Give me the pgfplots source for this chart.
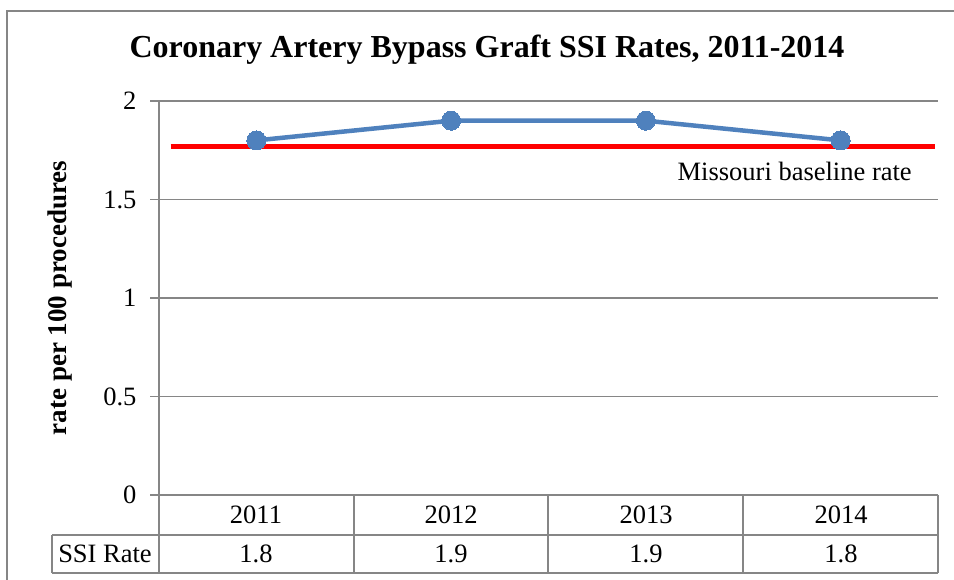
\documentclass[border=0pt]{standalone}
\usepackage{pgfplots}
\pgfplotsset{compat=1.18}
\usepackage{fontspec}
\setmainfont{Liberation Serif}
\definecolor{gridc}{HTML}{868686}
\definecolor{blueline}{HTML}{4F81BD}
\begin{document}
\begin{tikzpicture}
\useasboundingbox (0bp,0bp) rectangle (954bp,580bp);
\fill[white] (0bp,0bp) rectangle (954bp,580bp);
\draw[gridc, line width=1.5bp] (7bp,0bp) -- (7bp,569bp) -- (954bp,569bp);
\node[font=\bfseries\fontsize{32bp}{36bp}\selectfont] at (487bp,530bp) {Coronary Artery Bypass Graft SSI Rates, 2011-2014};
\node[font=\bfseries\fontsize{27bp}{30bp}\selectfont, rotate=90] at (60bp,282bp) {rate per 100 procedures};
\begin{axis}[
  at={(159bp,85bp)}, anchor=south west, scale only axis,
  width=779bp, height=394bp,
  xmin=-0.5, xmax=3.5, ymin=0, ymax=2,
  xtick=\empty,
  ytick={0,0.5,1,1.5,2},
  yticklabels={0,0.5,1,1.5,2},
  /pgf/number format/assume math mode=true,
  ymajorgrids, grid style={gridc, line width=1.3bp},
  axis x line=none,
  axis y line*=left,
  axis line style={gridc, line width=1.5bp, -},
  y axis line style={-},
  tick align=outside, major tick length=9bp,
  tick style={gridc, line width=1.3bp},
  yticklabel style={font=\fontsize{26.5bp}{30bp}\selectfont, xshift=-10bp},
  clip=false,
]
\addplot[red, line width=5bp] coordinates {(-0.44,1.77) (3.485,1.77)};
\addplot[blueline, line width=4.5bp, mark=*, mark size=9.5bp, mark options={fill=blueline, draw=blueline, line width=0bp}] coordinates {(0,1.8) (1,1.9) (2,1.9) (3,1.8)};
\node[font=\fontsize{26.5bp}{30bp}\selectfont, anchor=east, inner sep=0pt] at (axis cs:3.366,1.64) {Missouri baseline rate};
\end{axis}
% data table
\begin{scope}[gridc, line width=1.5bp]
\draw (159bp,85bp) -- (938bp,85bp);
\draw (52bp,45bp) -- (938bp,45bp);
\draw (52bp,7bp) -- (938bp,7bp);
\draw (52bp,45bp) -- (52bp,7bp);
\foreach \xx in {159,354,548,743,938} {\draw (\xx bp,85bp) -- (\xx bp,7bp);}
\end{scope}
\begin{scope}[font=\fontsize{26.5bp}{30bp}\selectfont]
\node at (105bp,26bp) {SSI Rate};
\foreach \xx/\yr/\v in {256/2011/1.8, 451/2012/1.9, 646/2013/1.9, 841/2014/1.8} {
  \node at (\xx bp,65bp) {\yr};
  \node at (\xx bp,26bp) {\v};
}
\end{scope}
\end{tikzpicture}
\end{document}
